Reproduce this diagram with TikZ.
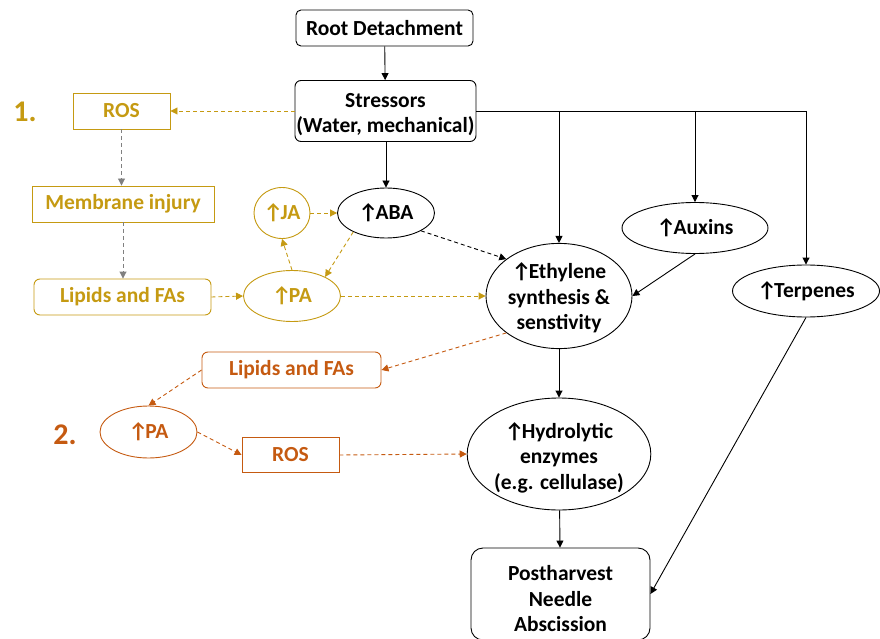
\documentclass[tikz,border=0pt]{standalone}
\usepackage{fontspec}
\setmainfont{Carlito}
\usetikzlibrary{arrows.meta,shapes.geometric}
\definecolor{gold}{RGB}{197,154,18}
\definecolor{orng}{RGB}{197,90,17}
\definecolor{grayarr}{RGB}{128,128,128}
\newcommand{\upar}{↑\kern-2.5pt}
\newcommand{\tallstrut}[1]{\rule{0pt}{#1}}
\tikzset{
  base/.style={font=\fontsize{21.5}{25.5}\selectfont\bfseries, align=center, inner sep=0pt, line width=0.9pt},
  rbox/.style={base, draw=black, rounded corners=6pt},
  ell/.style={base, draw=black, ellipse},
  gbox/.style={base, draw=gold, text=gold},
  gell/.style={base, draw=gold, text=gold, ellipse},
  obox/.style={base, draw=orng, text=orng},
  oell/.style={base, draw=orng, text=orng, ellipse},
  tip/.style={-{Triangle[width=7pt,length=7pt]}},
  sol/.style={tip, line width=0.9pt, black},
  dsh/.style={tip, line width=0.9pt, dash pattern=on 4pt off 3pt},
  lbl/.style={font=\fontsize{30}{32}\selectfont\bfseries, inner sep=0pt}
}
\begin{document}
\begin{tikzpicture}[x=1pt,y=-1pt]
\useasboundingbox (0,0) rectangle (880,639);
% black nodes
\node[rbox, minimum width=177pt, minimum height=36pt, rounded corners=5pt] (root) at (384.5,28) {Root Detachment};
\node[rbox, minimum width=181pt, minimum height=61pt] (stress) at (385.5,111) {\tallstrut{21.5pt}Stressors\\(Water, mechanical)};
\node[ell, minimum width=97pt, minimum height=50pt] (aba) at (386,213) {\upar ABA};
\node[ell, minimum width=146pt, minimum height=102pt] (eth) at (559,296) {\tallstrut{20pt}\upar Ethylene\\synthesis \&\\senstivity};
\node[ell, minimum width=146pt, minimum height=51pt] (aux) at (695,228) {\upar Auxins};
\node[ell, minimum width=147pt, minimum height=52pt] (terp) at (806,291) {\upar Terpenes};
\node[ell, minimum width=175pt, minimum height=112pt] (hyd) at (559,454) {\tallstrut{23pt}\upar Hydrolytic\\enzymes\\(e.g. cellulase)};
\node[rbox, minimum width=179pt, minimum height=92pt, rounded corners=12pt] (post) at (560.5,594) {\tallstrut{25pt}Postharvest\\Needle\\Abscission};
% gold nodes
\node[gbox, minimum width=97pt, minimum height=36pt] (ros1) at (121.5,111) {ROS};
\node[gbox, minimum width=182pt, minimum height=36pt] (mem) at (123,204) {Membrane injury};
\node[gbox, rounded corners=6pt, minimum width=177pt, minimum height=36pt] (lip1) at (122.5,297) {Lipids and FAs};
\node[gell, minimum width=56pt, minimum height=51pt] (ja) at (282,213) {\upar JA};
\node[gell, minimum width=97pt, minimum height=51pt] (pa1) at (292,296) {\upar PA};
% orange nodes
\node[obox, rounded corners=6pt, minimum width=179pt, minimum height=36pt] (lip2) at (291.5,370) {Lipids and FAs};
\node[oell, minimum width=97pt, minimum height=52pt] (pa2) at (148.5,432) {\upar PA};
\node[obox, minimum width=97pt, minimum height=35pt] (ros2) at (290.5,455) {ROS};
% labels
\node[lbl, text=gold] (l1) at (25,112) {1.};
\node[lbl, text=orng] (l2) at (65,435) {2.};
% black solid connectors
\draw[sol] (root) -- (stress);
\draw[sol] (stress.south -| aba.north) -- (aba.north);
\draw[line width=0.9pt] (stress.east) -- (terp.north |- stress.east);
\draw[sol] (eth.north |- stress.east) -- (eth.north);
\draw[sol] (aux.north |- stress.east) -- (aux.north);
\draw[sol] (terp.north |- stress.east) -- (terp.north);
\draw[sol] (aux.south) -- (eth.east);
\draw[sol] (eth) -- (hyd);
\draw[sol] (hyd) -- (post);
\draw[sol] (terp.south) -- (post.east);
\draw[dsh, black] (aba.-27) -- (eth.145);
% gold dashed
\draw[dsh, gold] (stress.west) -- (ros1.east);
\draw[dsh, grayarr] (ros1.south) -- (ros1.south |- mem.north);
\draw[dsh, grayarr] (mem.south) -- (mem.south |- lip1.north);
\draw[dsh, gold] (lip1.east) -- (pa1.west);
\draw[dsh, gold] (pa1.north) -- (ja.south);
\draw[dsh, gold] (ja.east) -- (aba.west);
\draw[dsh, gold] (aba.210) -- (pa1.30);
\draw[dsh, gold] (pa1.east) -- (eth.west);
% orange dashed
\draw[dsh, orng] (eth.215) -- (lip2.east);
\draw[dsh, orng] (lip2.west) -- (pa2.north);
\draw[dsh, orng] (pa2.east) -- (ros2.west);
\draw[dsh, orng] (ros2.east) -- (hyd.west);
\end{tikzpicture}
\end{document}
